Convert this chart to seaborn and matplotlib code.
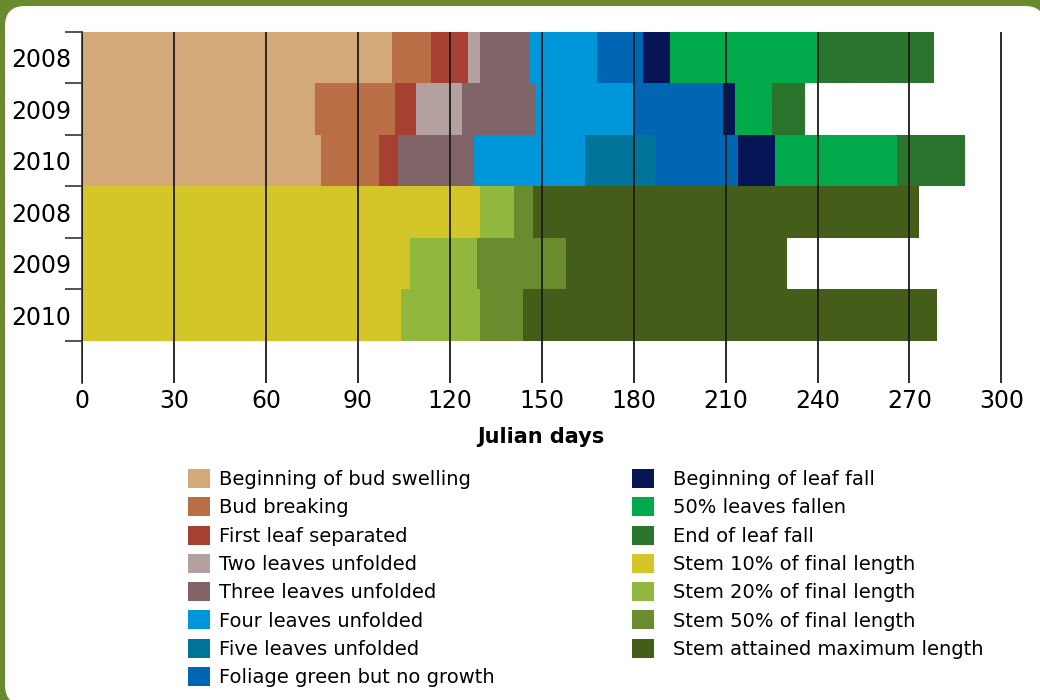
import pandas as pd
import numpy as np
import matplotlib
matplotlib.use('Agg')
import matplotlib.pyplot as plt
from matplotlib.patches import Patch, FancyBboxPatch
import seaborn as sns

# rows: leaf phenology 2008-2010, then stem growth 2008-2010
rows = ['leaf 2008', 'leaf 2009', 'leaf 2010', 'stem 2008', 'stem 2009', 'stem 2010']
row_labels = ['2008', '2009', '2010', '2008', '2009', '2010']

stages = ['Beginning of bud swelling', 'Bud breaking', 'First leaf separated',
          'Two leaves unfolded', 'Three leaves unfolded', 'Four leaves unfolded',
          'Five leaves unfolded', 'Foliage green but no growth',
          'Beginning of leaf fall', '50% leaves fallen', 'End of leaf fall',
          'Stem 10% of final length', 'Stem 20% of final length',
          'Stem 50% of final length', 'Stem attained maximum length']

colors = ['#d3a97a', '#b96e45', '#a54033', '#b5a0a0', '#816468', '#0096da',
          '#007399', '#0066b3', '#061556', '#00aa4b', '#2b742d',
          '#d4c629', '#91b73e', '#6b8b2f', '#445d18']

# julian day at which each stage ends (None = stage not recorded)
bud_swelling = [101, 76, 78]
bud_breaking = [114, 102, 97]
first_leaf = [126, 109, 103]
two_leaves = [130, 124, None]
three_leaves = [146, 148, 128]
four_leaves = [168, 180, 164]
five_leaves = [None, None, 187]
foliage_green = [183, 209, 214]
leaf_fall_begin = [192, 213, 226]
leaves_50 = [240, 225, 266]
leaf_fall_end = [278, 236, 288]
stem_10 = [130, 107, 104]
stem_20 = [141, 129, 130]
stem_50 = [147, 158, 144]
stem_max = [273, 230, 279]

leaf_data = [bud_swelling, bud_breaking, first_leaf, two_leaves, three_leaves,
             four_leaves, five_leaves, foliage_green, leaf_fall_begin,
             leaves_50, leaf_fall_end]
stem_data = [stem_10, stem_20, stem_50, stem_max]

records = []
for st, vals in zip(stages[:11], leaf_data):
    for r, v in zip(rows[:3], vals):
        if v is not None:
            records.append((r, st, v))
for st, vals in zip(stages[11:], stem_data):
    for r, v in zip(rows[3:], vals):
        records.append((r, st, v))
df = pd.DataFrame(records, columns=['row', 'stage', 'end'])

fig = plt.figure(figsize=(10.4, 7), dpi=100)
fig.patch.set_facecolor('#6a8a2e')
panel = FancyBboxPatch((0.05, -0.05), 10.40, 6.99,
                       boxstyle='round,pad=0,rounding_size=0.2',
                       transform=fig.dpi_scale_trans, facecolor='white',
                       edgecolor='none', zorder=-10)
fig.add_artist(panel)

ax = fig.add_axes([82 / 1040, 1 - 383 / 700, 928 / 1040, 351 / 700])
ax.set_facecolor('none')

# paint latest stage first so earlier stages sit on top
for st, col in reversed(list(zip(stages, colors))):
    sub = df[df['stage'] == st]
    sns.barplot(data=sub, x='end', y='row', order=rows, color=col,
                saturation=1, width=1, linewidth=0, errorbar=None,
                orient='h', ax=ax)

ax.set_xlim(0, 302.8)
ax.set_ylim(6.316, -0.5)
ax.set_xticks(range(0, 301, 30))
ax.tick_params(axis='x', length=0, pad=4, labelsize=17)
ax.set_yticks(np.arange(-0.5, 6, 1))
ax.set_yticklabels([])
ax.set_yticks(range(6), minor=True)
ax.set_yticklabels(row_labels, minor=True)
ax.tick_params(axis='y', which='major', length=12, width=1.3, color='#444')
ax.tick_params(axis='y', which='minor', length=0, pad=8, labelsize=17)
ax.set_xlabel('')
ax.set_ylabel('')
for s in ['top', 'right', 'bottom']:
    ax.spines[s].set_visible(False)
ax.spines['left'].set_color('#444')
ax.spines['left'].set_linewidth(1.3)

ax.xaxis.grid(True, color='#1a1a1a', linewidth=1.3)
ax.yaxis.grid(False)
ax.set_axisbelow(False)

fig.text(541 / 1040, 1 - 437 / 700, 'Julian days', ha='center', va='center',
         fontsize=15, fontweight='bold')

handles = [Patch(facecolor=c, edgecolor='none', label=s) for s, c in zip(stages, colors)]
leg_kw = dict(frameon=False, fontsize=14, handlelength=1.13, handleheight=1.13,
              labelspacing=0.42, borderpad=0, borderaxespad=0, loc='upper left')
fig.legend(handles=handles[:8], bbox_to_anchor=(188 / 1040, 1 - 469 / 700),
           handletextpad=0.45, **leg_kw)
fig.legend(handles=handles[8:], bbox_to_anchor=(632 / 1040, 1 - 469 / 700),
           handletextpad=1.0, **leg_kw)

fig.savefig('out.png', dpi=100, facecolor=fig.get_facecolor())
